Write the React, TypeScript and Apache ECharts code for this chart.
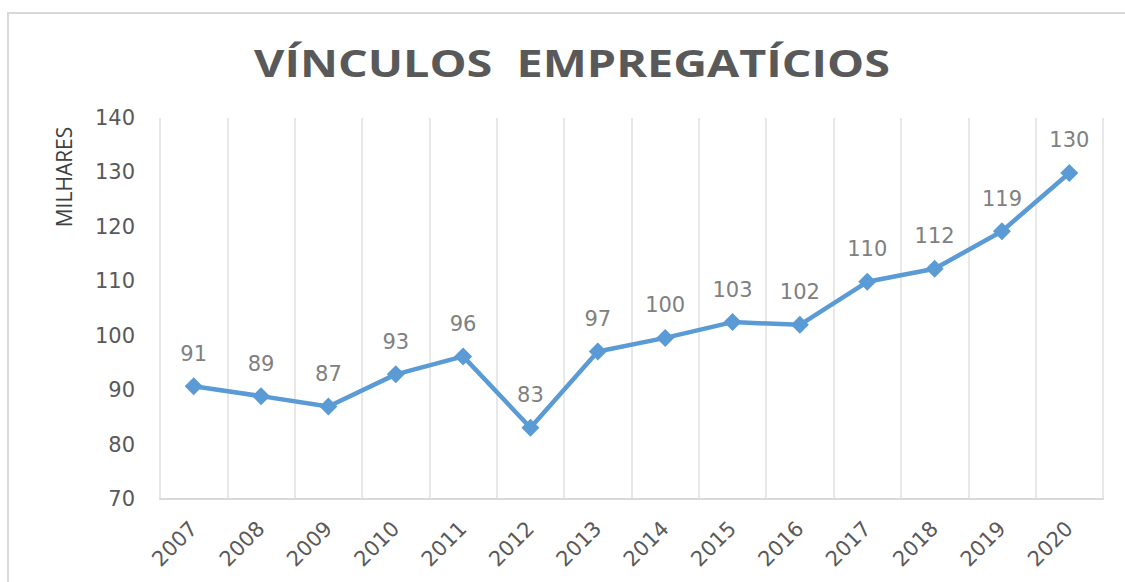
import React, { useEffect, useRef } from "react";
import * as echarts from "echarts";

const years = ["2007", "2008", "2009", "2010", "2011", "2012", "2013", "2014", "2015", "2016", "2017", "2018", "2019", "2020"];
const values = [90.7, 88.9, 87.0, 92.9, 96.2, 83.1, 97.1, 99.6, 102.5, 102.0, 109.9, 112.3, 119.2, 129.9];
const valueLabels = ["91", "89", "87", "93", "96", "83", "97", "100", "103", "102", "110", "112", "119", "130"];
const titleText = "VÍNCULOS  EMPREGATÍCIOS";
const yName = "MILHARES";

export default function App() {
  const ref = useRef<HTMLDivElement>(null);
  useEffect(() => {
    if (!ref.current) return;
    const chart = echarts.init(ref.current, null, { renderer: "svg" });
    chart.setOption({
      animation: false,
      backgroundColor: "#ffffff",
      graphic: [
        {
          type: "rect",
          shape: { x: 8, y: 13, width: 1200, height: 700 },
          style: { fill: "none", stroke: "#d9d9d9", lineWidth: 2 },
          silent: true,
        },
        {
          type: "text",
          x: 572,
          y: 62,
          scaleX: 1.23,
          style: {
            text: titleText,
            fontFamily: "Open Sans",
            fontWeight: "bold",
            fontSize: 38,
            fill: "#595959",
            align: "center",
            verticalAlign: "middle",
          },
        },
        {
          type: "text",
          x: 64,
          y: 177,
          rotation: Math.PI / 2,
          style: {
            text: yName,
            fontFamily: "Open Sans",
            fontSize: 21,
            fill: "#404040",
            align: "center",
            verticalAlign: "middle",
          },
        },
      ],
      grid: { left: 160, right: 22, top: 118, bottom: 83, containLabel: false },
      xAxis: {
        type: "category",
        data: years,
        boundaryGap: true,
        axisLine: { show: true, lineStyle: { color: "#d9d9d9", width: 2 } },
        axisTick: { show: false },
        splitLine: { show: true, lineStyle: { color: "#e8e8e8", width: 2 } },
        axisLabel: {
          rotate: 45,
          margin: 26,
          interval: 0,
          fontFamily: "DejaVu Sans",
          fontSize: 21,
          color: "#595959",
        },
      },
      yAxis: {
        type: "value",
        min: 70,
        max: 140,
        interval: 10,
        axisLine: { show: false },
        axisTick: { show: false },
        splitLine: { show: false },
        axisLabel: {
          margin: 25,
          fontFamily: "DejaVu Sans",
          fontSize: 21,
          color: "#595959",
        },
      },
      series: [
        {
          type: "line",
          data: values,
          symbol: "diamond",
          symbolSize: 18,
          lineStyle: { color: "#5B9BD5", width: 4.5 },
          itemStyle: { color: "#5B9BD5" },
          label: {
            show: true,
            position: "top",
            distance: 13,
            fontFamily: "DejaVu Sans",
            fontSize: 21,
            color: "#808080",
            formatter: (p: any) => valueLabels[p.dataIndex],
          },
        },
      ],
    });
    return () => chart.dispose();
  }, []);
  return (
    <div
      ref={ref}
      style={{ position: "fixed", left: 0, top: 0, width: 1125, height: 582 }}
    />
  );
}
